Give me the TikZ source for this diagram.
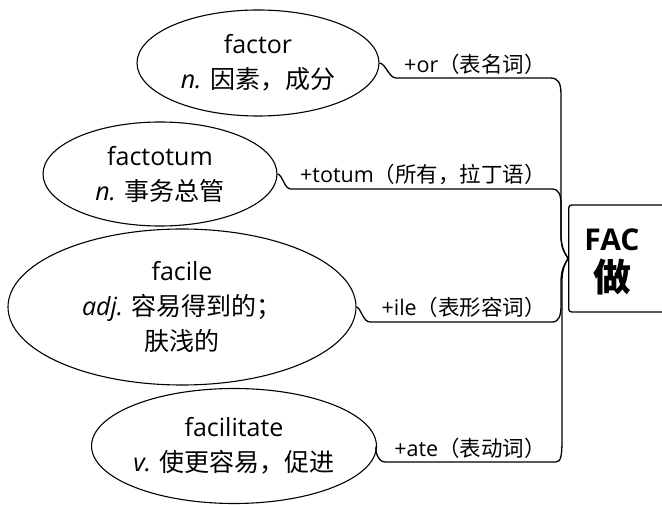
\documentclass[tikz,border=0pt]{standalone}
\usepackage{fontspec}
\setmainfont{Open Sans}
\newfontfamily\cjk{Noto Sans CJK SC}
\usetikzlibrary{shapes.geometric}
\tikzset{
  word/.style={draw, ellipse, line width=1.1pt, inner sep=0pt, align=center,
    font=\fontsize{25}{35}\selectfont},
  tag/.style={inner sep=0pt, anchor=east, font=\fontsize{21.5}{25}\selectfont},
  link/.style={line width=1.3pt},
}
\begin{document}
\begin{tikzpicture}[x=1pt,y=-1pt]
\useasboundingbox (0,0) rectangle (662,505);
% root box
\node[draw, line width=1.3pt, rounded corners=3pt, minimum width=110pt, minimum height=107pt,
  anchor=west, inner sep=0pt] (box) at (568,258.5) {};
\node[align=center, inner sep=0pt] (fac) at (612,262)
  {{\fontsize{30}{30}\selectfont\bfseries FAC}\\[8pt]{\fontsize{38}{38}\selectfont\cjk\bfseries 做}};
% words
\node[word, minimum width=242pt, minimum height=106pt] (e1) at (258,63)
  {factor\\{\itshape n.} {\cjk 因素，成分}};
\node[word, minimum width=234pt, minimum height=104pt] (e2) at (160,174)
  {factotum\\{\itshape n.} {\cjk 事务总管}};
\node[word, minimum width=348pt, minimum height=156pt] (e3) at (182,307)
  {facile\\{\itshape adj.} {\cjk 容易得到的；}\\{\cjk 肤浅的}};
\node[word, minimum width=268pt, minimum height=115pt] (e4) at (234,446)
  {facilitate\\{\itshape v.} {\cjk 使更容易，促进}};
% labels
\node[tag] (t1) at (546,64) {+or{\cjk （表名词）}};
\node[tag] (t2) at (546,174) {+totum{\cjk （所有，拉丁语）}};
\node[tag] (t3) at (546,307) {+ile{\cjk （表形容词）}};
\node[tag] (t4) at (546,448) {+ate{\cjk （表动词）}};
% connectors
\coordinate (h1) at (396,78);
\coordinate (h2) at (291,189);
\coordinate (h3) at (370,322);
\coordinate (h4) at (385,462);
\draw[link] (e1.east) .. controls (386,64) and (389,78) .. (h1) -- (550,78)
  .. controls (558,78) and (561,82) .. (561,95) -- (561,235)
  .. controls (561,250) and (566,254) .. (box.west);
\draw[link] (e2.east) .. controls (283,175) and (284,189) .. (h2) -- (552,189)
  .. controls (559,189) and (561,195) .. (561,205) -- (561,235)
  .. controls (561,250) and (566,254) .. (box.west);
\draw[link] (e3.east) .. controls (361,308) and (363,322) .. (h3) -- (552,322)
  .. controls (559,322) and (561,316) .. (561,305) -- (561,282)
  .. controls (561,267) and (566,263) .. (box.west);
\draw[link] (e4.east) .. controls (374,447) and (377,462) .. (h4) -- (556,462)
  .. controls (561,462) and (562,455) .. (562,440) -- (562,282)
  .. controls (562,267) and (566,263) .. (box.west);
\end{tikzpicture}
\end{document}
